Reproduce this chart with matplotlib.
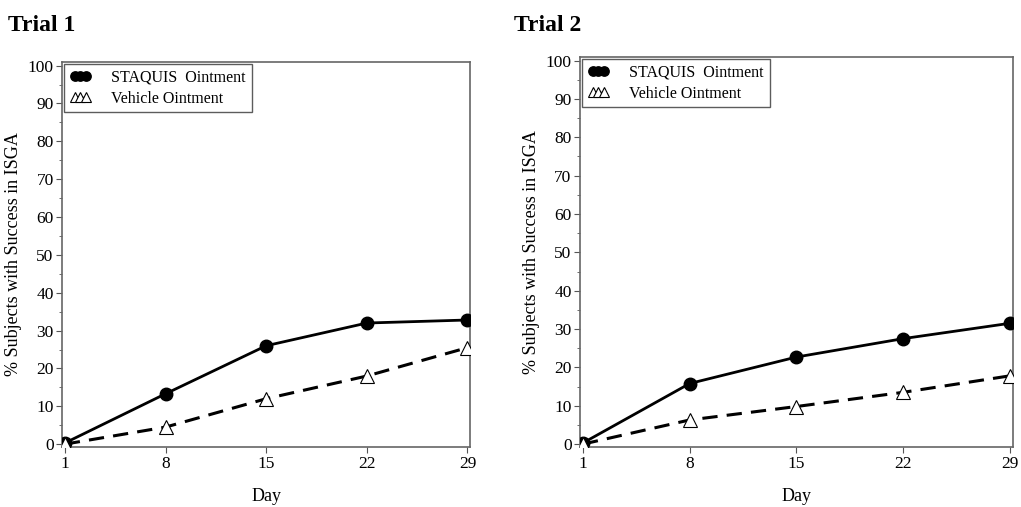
import matplotlib.pyplot as plt
from matplotlib.ticker import MultipleLocator

plt.rcParams['font.family'] = ['Liberation Serif', 'DejaVu Serif']

# data
days = [1, 8, 15, 22, 29]
trial1_staquis = [0.3, 13.3, 26.0, 32.0, 32.8]
trial1_vehicle = [0.0, 4.5, 12.0, 18.0, 25.5]
trial2_staquis = [0.3, 15.8, 22.7, 27.5, 31.5]
trial2_vehicle = [0.0, 6.3, 9.8, 13.5, 17.8]
titles = ['Trial 1', 'Trial 2']
labels = ['STAQUIS  Ointment', 'Vehicle Ointment']

fig = plt.figure(figsize=(10.21, 5.07), dpi=100)
# axes boxes in figure fractions
boxes = [[0.0607, 0.118, 0.4, 0.76], [0.568, 0.118, 0.424, 0.77]]
title_pos = [(0.008, 0.95), (0.503, 0.95)]
data = [(trial1_staquis, trial1_vehicle), (trial2_staquis, trial2_vehicle)]

for i in range(2):
    ax = fig.add_axes(boxes[i])
    st, ve = data[i]
    ax.plot(days, st, color='black', lw=2, marker='o', ms=9,
            label=labels[0], zorder=3)
    ax.plot(days, ve, color='black', lw=2.2, ls=(0, (5, 3)), marker='^',
            ms=10, mfc='white', mec='black', mew=0.8, label=labels[1], zorder=3)
    ax.set_xlim(0.8, 29.2)
    ax.set_ylim(-0.8, 101)
    ax.set_xticks(days)
    ax.yaxis.set_major_locator(MultipleLocator(10))
    ax.yaxis.set_minor_locator(MultipleLocator(5))
    ax.tick_params(labelsize=12.5, length=4, color='#555555', pad=2)
    ax.tick_params(which='minor', length=2, color='#555555')
    for sp in ax.spines.values():
        sp.set_color('#666666')
        sp.set_linewidth(1.2)
    ax.set_xlabel('Day', fontsize=13, labelpad=12)
    ax.set_ylabel('% Subjects with Success in ISGA', fontsize=13, labelpad=4)
    leg = ax.legend(loc='upper left', fontsize=11.5, frameon=True, fancybox=False,
                    borderaxespad=0.15, handlelength=1.3, labelspacing=0.3,
                    borderpad=0.35, markerscale=0.75, numpoints=3,
                    handletextpad=1.3)
    for h in leg.get_lines():
        h.set_linewidth(1.0)
        h.set_linestyle('-')
    leg.get_frame().set_edgecolor('#333333')
    leg.get_frame().set_linewidth(1.0)
    fig.text(title_pos[i][0], title_pos[i][1], titles[i], fontsize=17,
             fontweight='bold', ha='left', va='center')

fig.savefig('out.png', dpi=100)
